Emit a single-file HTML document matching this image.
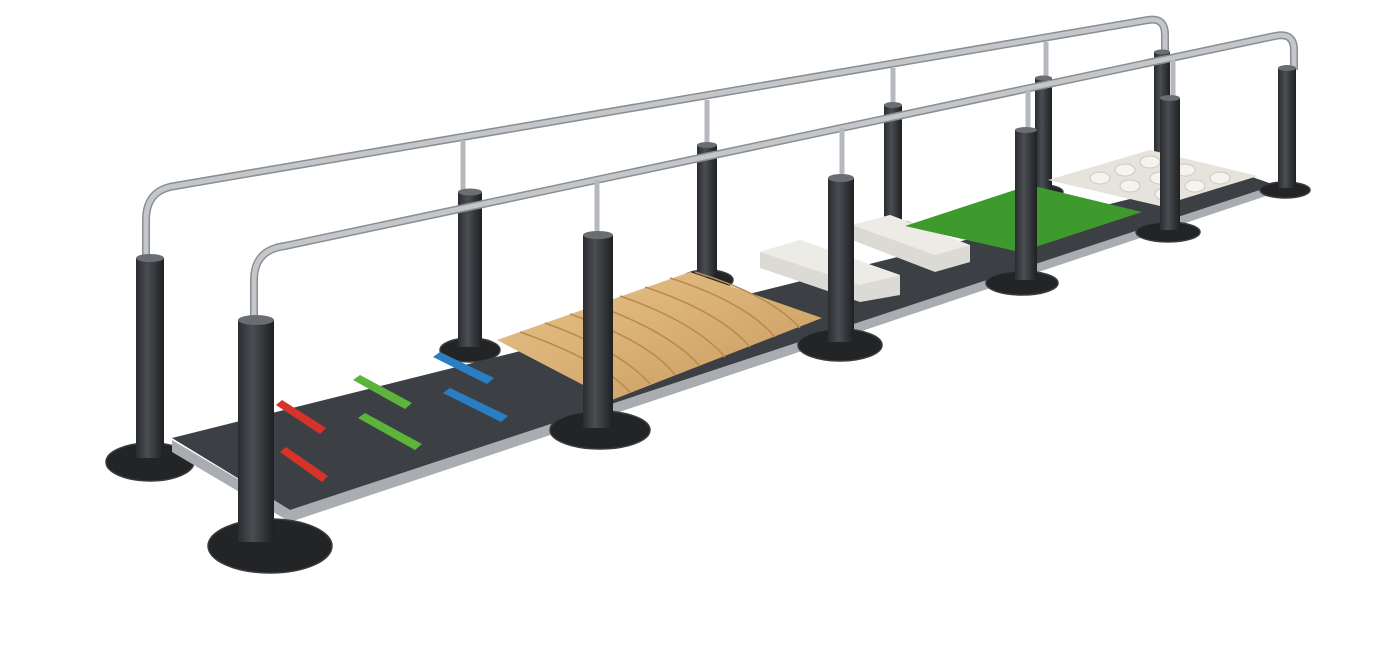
<!DOCTYPE html>
<html><head><meta charset="utf-8"><style>
html,body{margin:0;padding:0;background:#fff;}
svg{display:block}
</style></head><body>
<svg width="1382" height="645" viewBox="0 0 1382 645" xmlns="http://www.w3.org/2000/svg">
<defs>
<linearGradient id="post" x1="0" x2="1">
<stop offset="0" stop-color="#2a2c2f"/><stop offset="0.4" stop-color="#4a4d52"/><stop offset="1" stop-color="#1e2022"/>
</linearGradient>
<linearGradient id="wood" x1="0" x2="1" y1="0" y2="1">
<stop offset="0" stop-color="#e8c48c"/><stop offset="1" stop-color="#c99a5c"/>
</linearGradient>
</defs>
<!-- base discs back -->
<g fill="#222426" stroke="#3a3d40" stroke-width="1.5">
<ellipse cx="150" cy="462" rx="44" ry="19"/>
<ellipse cx="470" cy="350" rx="30" ry="12"/>
<ellipse cx="707" cy="280" rx="26" ry="10"/>
<ellipse cx="893" cy="228" rx="22" ry="8"/>
<ellipse cx="1043" cy="192" rx="20" ry="7"/>
<ellipse cx="1162" cy="165" rx="18" ry="6"/>
</g>
<!-- back rail -->
<g fill="none">
<path d="M146 258 L146 220 Q146 190 175 186 L1148 20 Q1165 17 1165 35 L1165 60" stroke="#8a8e92" stroke-width="8"/>
<path d="M146 258 L146 220 Q146 190 175 186 L1148 20 Q1165 17 1165 35 L1165 60" stroke="#c4c7ca" stroke-width="5"/>
</g>
<g stroke="#b5b9bd" stroke-width="5">
<line x1="463" y1="140" x2="463" y2="195"/><line x1="707" y1="100" x2="707" y2="148"/>
<line x1="893" y1="68" x2="893" y2="108"/><line x1="1046" y1="42" x2="1046" y2="80"/>
</g>
<!-- back posts -->
<g fill="url(#post)">
<rect x="136" y="258" width="28" height="200"/>
<rect x="458" y="192" width="24" height="155"/>
<rect x="697" y="145" width="20" height="132"/>
<rect x="884" y="105" width="18" height="120"/>
<rect x="1035" y="78" width="17" height="112"/>
<rect x="1154" y="52" width="16" height="112"/>
</g>
<g fill="#6a6e72">
<ellipse cx="150" cy="258" rx="14" ry="4"/><ellipse cx="470" cy="192" rx="12" ry="3.5"/>
<ellipse cx="707" cy="145" rx="10" ry="3"/><ellipse cx="893" cy="105" rx="9" ry="3"/>
<ellipse cx="1043.5" cy="78" rx="8.5" ry="2.5"/><ellipse cx="1162" cy="52" rx="8" ry="2.5"/>
</g>
<!-- platform side -->
<polygon points="172,440 290,510 1275,185 1275,193 290,522 172,452" fill="#a9adb1"/>
<!-- platform top -->
<polygon points="172,438 1238,172 1275,185 290,510" fill="#3c4044"/>
<!-- colored bars -->
<g>
<polygon points="276,405 282,400 326,428 320,434" fill="#d8332a"/>
<polygon points="280,452 286,447 328,476 322,482" fill="#d8332a"/>
<polygon points="353,380 360,375 412,403 405,409" fill="#5cb53a"/>
<polygon points="358,418 365,413 422,444 415,450" fill="#5cb53a"/>
<polygon points="433,357 440,352 494,378 487,384" fill="#2a7fc4"/>
<polygon points="443,393 450,388 508,416 501,422" fill="#2a7fc4"/>
</g>
<!-- wood -->
<polygon points="497,340 690,272 822,318 612,400" fill="url(#wood)"/>
<g stroke="#b88a52" stroke-width="1.5" fill="none">
<path d="M520 332 Q600 360 630 392"/><path d="M545 323 Q620 350 650 384"/>
<path d="M570 314 Q650 342 675 375"/><path d="M595 305 Q670 332 700 366"/>
<path d="M620 296 Q695 322 725 357"/><path d="M645 287 Q720 312 750 347"/>
<path d="M670 278 Q745 302 775 337"/><path d="M695 272 Q770 295 800 328"/>
</g>
<!-- white blocks -->
<polygon points="760,252 800,240 900,275 900,295 860,302 760,268" fill="#dcdad4"/>
<polygon points="760,252 800,240 900,275 860,285" fill="#ecebe6"/>
<polygon points="852,225 890,215 970,245 970,262 935,272 852,240" fill="#dcdad4"/>
<polygon points="852,225 890,215 970,245 935,255" fill="#ecebe6"/>
<!-- grass -->
<polygon points="905,226 1030,185 1142,212 1020,252" fill="#3f9a2e"/>
<!-- pebbles -->
<polygon points="1048,180 1150,150 1258,176 1160,206" fill="#e6e3dc"/>
<g fill="#f5f3ee" stroke="#ccc8be" stroke-width="1">
<ellipse cx="1100" cy="178" rx="10" ry="6"/><ellipse cx="1125" cy="170" rx="10" ry="6"/>
<ellipse cx="1150" cy="162" rx="10" ry="6"/><ellipse cx="1130" cy="186" rx="10" ry="6"/>
<ellipse cx="1160" cy="178" rx="10" ry="6"/><ellipse cx="1185" cy="170" rx="10" ry="6"/>
<ellipse cx="1165" cy="194" rx="10" ry="6"/><ellipse cx="1195" cy="186" rx="10" ry="6"/>
<ellipse cx="1220" cy="178" rx="10" ry="6"/>
</g>
<!-- front base discs -->
<g fill="#222426" stroke="#3a3d40" stroke-width="1.5">
<ellipse cx="270" cy="546" rx="62" ry="27"/>
<ellipse cx="600" cy="430" rx="50" ry="19"/>
<ellipse cx="840" cy="345" rx="42" ry="16"/>
<ellipse cx="1022" cy="283" rx="36" ry="12"/>
<ellipse cx="1168" cy="232" rx="32" ry="10"/>
<ellipse cx="1285" cy="190" rx="25" ry="8"/>
</g>
<!-- front rail -->
<g fill="none">
<path d="M254 322 L254 280 Q254 250 285 246 L1275 36 Q1294 32 1294 50 L1294 70" stroke="#8a8e92" stroke-width="8"/>
<path d="M254 322 L254 280 Q254 250 285 246 L1275 36 Q1294 32 1294 50 L1294 70" stroke="#c4c7ca" stroke-width="5"/>
</g>
<g stroke="#b5b9bd" stroke-width="5">
<line x1="597" y1="180" x2="597" y2="238"/><line x1="842" y1="128" x2="842" y2="180"/>
<line x1="1028" y1="90" x2="1028" y2="132"/><line x1="1173" y1="60" x2="1173" y2="100"/>
</g>
<!-- front posts -->
<g fill="url(#post)">
<rect x="238" y="320" width="36" height="222"/>
<rect x="583" y="235" width="30" height="193"/>
<rect x="828" y="178" width="26" height="164"/>
<rect x="1015" y="130" width="22" height="150"/>
<rect x="1160" y="98" width="20" height="132"/>
<rect x="1278" y="68" width="18" height="120"/>
</g>
<g fill="#6a6e72">
<ellipse cx="256" cy="320" rx="18" ry="5"/><ellipse cx="598" cy="235" rx="15" ry="4"/>
<ellipse cx="841" cy="178" rx="13" ry="4"/><ellipse cx="1026" cy="130" rx="11" ry="3"/>
<ellipse cx="1170" cy="98" rx="10" ry="3"/><ellipse cx="1287" cy="68" rx="9" ry="3"/>
</g>
</svg>
</body></html>
